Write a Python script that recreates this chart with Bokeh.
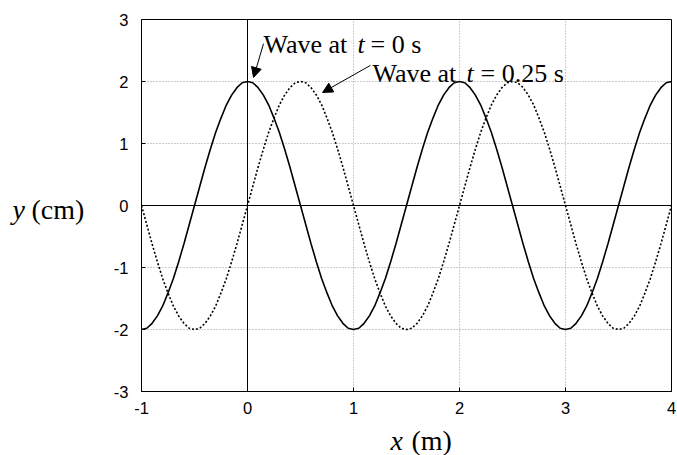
from bokeh.plotting import figure
from bokeh.models import Range1d, FixedTicker, Span, Label, Arrow, NormalHead
from bokeh.embed import file_html
from bokeh.resources import INLINE

# ---- data ----
x_start, x_step, n_points = -1.0, 0.05, 101
x_vals = [round(x_start + x_step * i, 2) for i in range(n_points)]

wave_t0 = [
    -2.00, -1.98, -1.90, -1.78, -1.62, -1.41, -1.18, -0.91, -0.62, -0.31,
    0.00, 0.31, 0.62, 0.91, 1.18, 1.41, 1.62, 1.78, 1.90, 1.98, 2.00,
    1.98, 1.90, 1.78, 1.62, 1.41, 1.18, 0.91, 0.62, 0.31, 0.00,
    -0.31, -0.62, -0.91, -1.18, -1.41, -1.62, -1.78, -1.90, -1.98, -2.00,
    -1.98, -1.90, -1.78, -1.62, -1.41, -1.18, -0.91, -0.62, -0.31, 0.00,
    0.31, 0.62, 0.91, 1.18, 1.41, 1.62, 1.78, 1.90, 1.98, 2.00,
    1.98, 1.90, 1.78, 1.62, 1.41, 1.18, 0.91, 0.62, 0.31, 0.00,
    -0.31, -0.62, -0.91, -1.18, -1.41, -1.62, -1.78, -1.90, -1.98, -2.00,
    -1.98, -1.90, -1.78, -1.62, -1.41, -1.18, -0.91, -0.62, -0.31, 0.00,
    0.31, 0.62, 0.91, 1.18, 1.41, 1.62, 1.78, 1.90, 1.98, 2.00,
]

wave_t025 = [
    0.00, -0.31, -0.62, -0.91, -1.18, -1.41, -1.62, -1.78, -1.90, -1.98, -2.00,
    -1.98, -1.90, -1.78, -1.62, -1.41, -1.18, -0.91, -0.62, -0.31, 0.00,
    0.31, 0.62, 0.91, 1.18, 1.41, 1.62, 1.78, 1.90, 1.98, 2.00,
    1.98, 1.90, 1.78, 1.62, 1.41, 1.18, 0.91, 0.62, 0.31, 0.00,
    -0.31, -0.62, -0.91, -1.18, -1.41, -1.62, -1.78, -1.90, -1.98, -2.00,
    -1.98, -1.90, -1.78, -1.62, -1.41, -1.18, -0.91, -0.62, -0.31, 0.00,
    0.31, 0.62, 0.91, 1.18, 1.41, 1.62, 1.78, 1.90, 1.98, 2.00,
    1.98, 1.90, 1.78, 1.62, 1.41, 1.18, 0.91, 0.62, 0.31, 0.00,
    -0.31, -0.62, -0.91, -1.18, -1.41, -1.62, -1.78, -1.90, -1.98, -2.00,
    -1.98, -1.90, -1.78, -1.62, -1.41, -1.18, -0.91, -0.62, -0.31, 0.00,
]

x_ticks = [-1, 0, 1, 2, 3, 4]
x_tick_labels = ["-1", "0", "1", "2", "3", "4"]
y_ticks = [-3, -2, -1, 0, 1, 2, 3]
y_tick_labels = ["-3", "-2", "-1", "0", "1", "2", "3"]

label_t0 = ("Wave at", "t", "= 0 s")
label_t025 = ("Wave at", "t", "= 0.25 s")
x_label = ("x", "(m)")
y_label = ("y", "(cm)")

# ---- figure ----
p = figure(width=677, height=455, output_backend="svg", toolbar_location=None,
           x_range=Range1d(-1, 4), y_range=Range1d(-3, 3),
           min_border_left=141, min_border_right=6,
           min_border_top=19, min_border_bottom=64)
p.background_fill_color = "white"
p.border_fill_color = "white"
p.outline_line_color = "black"
p.outline_line_width = 1
p.outline_line_alpha = 1

for ax, ticks, labels in ((p.xaxis[0], x_ticks, x_tick_labels),
                          (p.yaxis[0], y_ticks, y_tick_labels)):
    ax.ticker = FixedTicker(ticks=ticks)
    ax.major_label_overrides = {t: l for t, l in zip(ticks, labels)}
    ax.major_tick_in = 4
    ax.major_tick_out = 0
    ax.minor_tick_line_color = None
    ax.axis_line_color = "black"
    ax.major_tick_line_color = "black"
    ax.major_label_text_font = "Liberation Sans"
    ax.major_label_text_font_size = "16.5px"
    ax.major_label_text_color = "black"
p.yaxis[0].major_label_standoff = 13
p.xaxis[0].major_label_standoff = 10

for g in (p.xgrid[0], p.ygrid[0]):
    g.grid_line_color = "#9a9a9a"
    g.grid_line_dash = "1 2"
    g.grid_line_width = 1

# axes through origin
p.add_layout(Span(location=0, dimension="height", line_color="black", line_width=1))
p.add_layout(Span(location=0, dimension="width", line_color="black", line_width=1))

p.line(x_vals, wave_t025, line_color="black", line_width=1.6, line_dash="2 2")
p.line(x_vals, wave_t0, line_color="black", line_width=1.6)

serif = "Liberation Serif"


def text_label(x, y, txt, off, style, size, place):
    p.add_layout(Label(x=x, y=y, x_offset=off, text=txt, text_font=serif,
                       text_font_size=size, text_font_style=style,
                       text_color="black", text_baseline="alphabetic",
                       text_align="left"), place)


# annotations inside the plot
for txt, off, st in zip(label_t0, (0, 94, 107), ("normal", "italic", "normal")):
    text_label(0.151, 2.60, txt, off, st, "26px", "center")
for txt, off, st in zip(label_t025, (0, 94, 108), ("normal", "italic", "normal")):
    text_label(1.179, 2.13, txt, off, st, "26px", "center")

head = dict(size=10, fill_color="black", line_color="black")
p.add_layout(Arrow(end=NormalHead(**head), x_start=0.151, y_start=2.61,
                   x_end=0.057, y_end=2.065, line_color="black", line_width=1))
p.add_layout(Arrow(end=NormalHead(**head), x_start=1.16, y_start=2.26,
                   x_end=0.708, y_end=1.823, line_color="black", line_width=1))

# axis titles, split over the side panels so neither panel needs to grow
text_label(-1, -0.065, y_label[0], -129, "italic", "28px", "left")
text_label(-1, -0.065, y_label[1], -110, "normal", "28px", "left")
text_label(1.349, -3.79, x_label[0], 0, "italic", "28px", "left")
text_label(1.349, -3.79, x_label[1], 21, "normal", "28px", "below")

open("out.html", "w").write(file_html(p, INLINE))
